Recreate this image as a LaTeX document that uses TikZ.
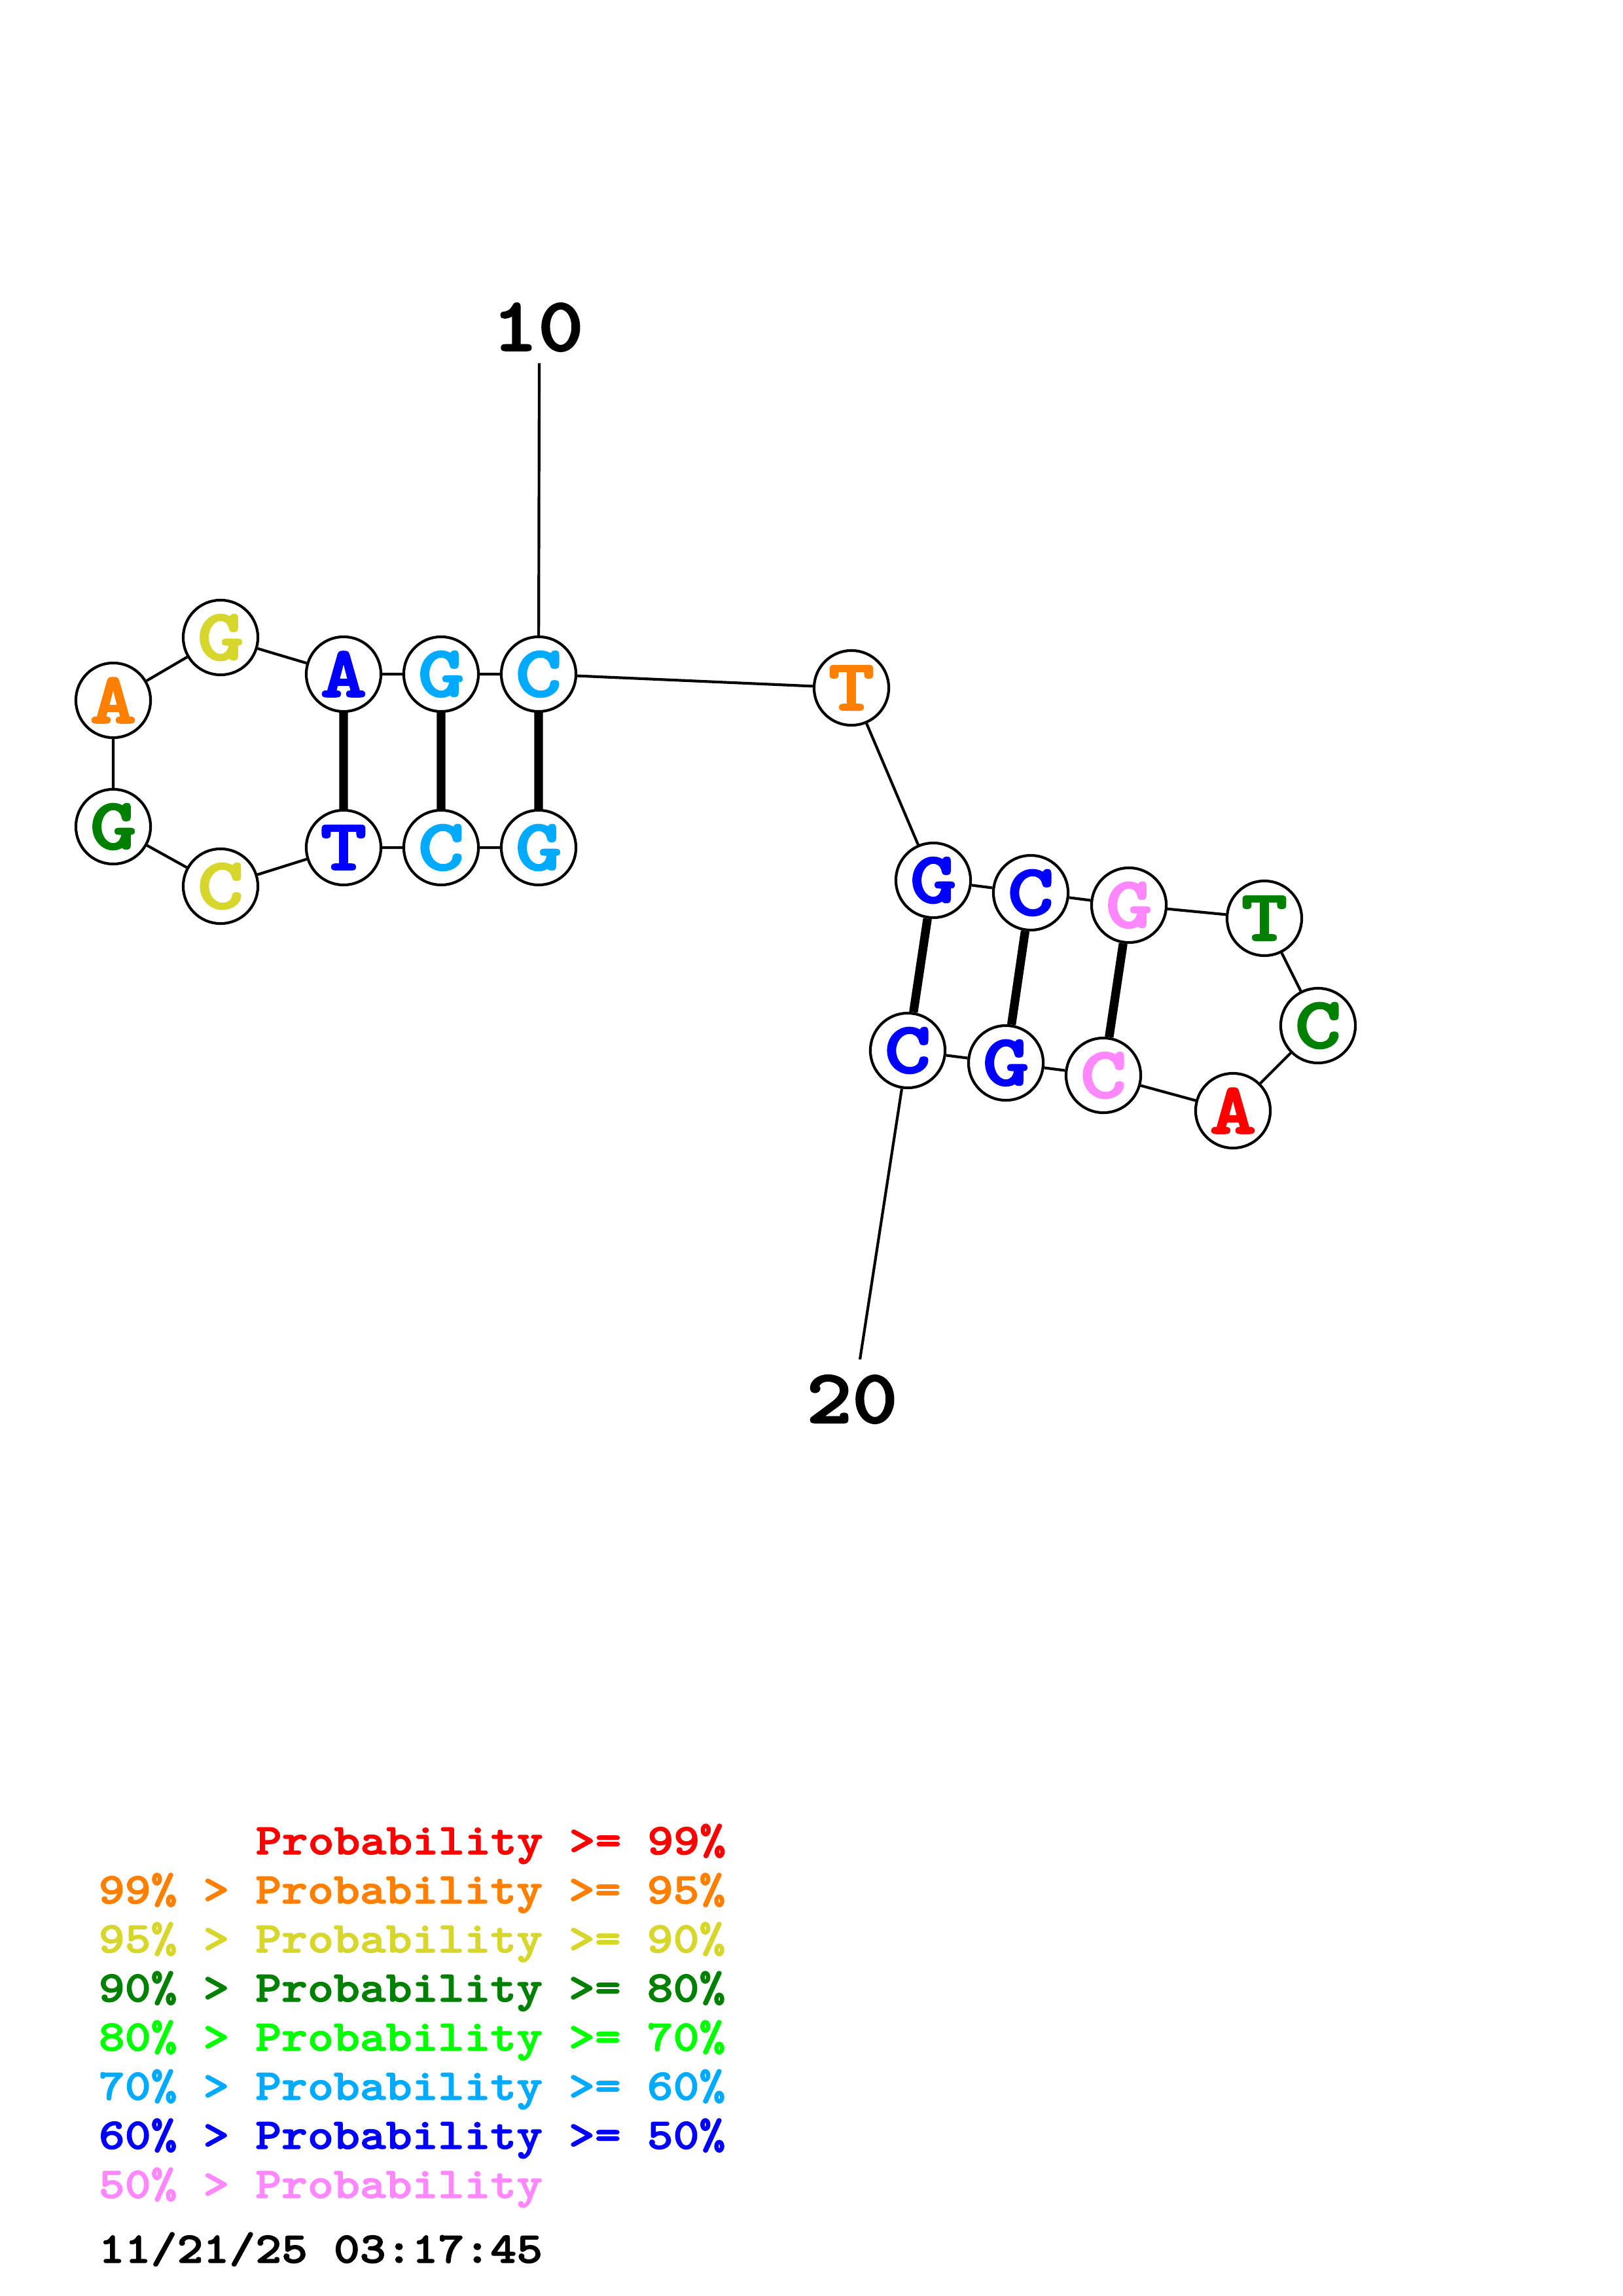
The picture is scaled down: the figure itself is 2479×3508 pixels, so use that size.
\documentclass[tikz,border=0pt]{standalone}
\usepackage{fontspec}
\newfontfamily\nucfont{lmmonolt10-bold.otf}[FakeStretch=1.22,FakeBold=2.5]
\newfontfamily\legfont{lmmonolt10-bold.otf}[FakeStretch=1.14,FakeBold=2]
\definecolor{pred}{RGB}{255,0,0}
\definecolor{porange}{RGB}{255,128,0}
\definecolor{pyellow}{RGB}{214,214,44}
\definecolor{pdgreen}{RGB}{0,128,0}
\definecolor{pgreen}{RGB}{0,255,0}
\definecolor{pcyan}{RGB}{0,170,255}
\definecolor{pblue}{RGB}{0,0,255}
\definecolor{ppink}{RGB}{255,136,255}
\tikzset{
  nuc/.style={circle,draw=black,line width=1pt,fill=white,inner sep=0pt,
    minimum size=27.4pt,font=\nucfont\fontsize{26.5}{26.5}\selectfont},
  bb/.style={line width=1pt},
  bp/.style={line width=3.2pt},
  numlabel/.style={inner sep=0pt,font=\legfont\fontsize{28}{28}\selectfont},
  legline/.style={anchor=base west,inner sep=0pt,font=\legfont\fontsize{16}{16}\selectfont}
}
\begin{document}
\begin{tikzpicture}[x=0.24pt,y=-0.24pt]
\useasboundingbox (0,0) rectangle (2479,3508);
\node[nuc,text=pcyan]   (n1)  at (823,1295) {G};
\node[nuc,text=pcyan]   (n2)  at (674,1295) {C};
\node[nuc,text=pblue]   (n3)  at (525,1295) {T};
\node[nuc,text=pyellow] (n4)  at (337,1354) {C};
\node[nuc,text=pdgreen] (n5)  at (173,1263) {G};
\node[nuc,text=porange] (n6)  at (173,1070) {A};
\node[nuc,text=pyellow] (n7)  at (337,974)  {G};
\node[nuc,text=pblue]   (n8)  at (525,1030) {A};
\node[nuc,text=pcyan]   (n9)  at (674,1030) {G};
\node[nuc,text=pcyan]   (n10) at (823,1030) {C};
\node[nuc,text=porange] (n11) at (1301,1051) {T};
\node[nuc,text=pblue]   (n12) at (1426,1345) {G};
\node[nuc,text=pblue]   (n13) at (1575,1364) {C};
\node[nuc,text=ppink]   (n14) at (1725,1383) {G};
\node[nuc,text=pdgreen] (n15) at (1932,1403) {T};
\node[nuc,text=pdgreen] (n16) at (2014,1567) {C};
\node[nuc,text=pred]    (n17) at (1884,1697) {A};
\node[nuc,text=ppink]   (n18) at (1686,1643) {C};
\node[nuc,text=pblue]   (n19) at (1537,1624) {G};
\node[nuc,text=pblue]   (n20) at (1387,1605) {C};
\coordinate (t10) at (824,555);
\coordinate (t20) at (1314,2077);
\node[numlabel] (l10) at (822,500) {10};
\node[numlabel] (l20) at (1302,2138) {20};
% backbone
\draw[bb] (n1)--(n2) (n2)--(n3) (n3)--(n4) (n4)--(n5) (n5)--(n6) (n6)--(n7)
  (n7)--(n8) (n8)--(n9) (n9)--(n10) (n10)--(n11) (n11)--(n12) (n12)--(n13)
  (n13)--(n14) (n14)--(n15) (n15)--(n16) (n16)--(n17) (n17)--(n18) (n18)--(n19)
  (n19)--(n20);
\draw[bb] (n10)--(t10);
\draw[bb] (n20)--(t20);
% base pairs
\draw[bp] (n1)--(n10) (n2)--(n9) (n3)--(n8) (n12)--(n20) (n13)--(n19) (n14)--(n18);
% legend
\node[legline,text=pred]    (g1) at (390,2833) {Probability >= 99\%};
\node[legline,text=porange] (g2) at (150,2908) {99\% > Probability >= 95\%};
\node[legline,text=pyellow] (g3) at (150,2983) {95\% > Probability >= 90\%};
\node[legline,text=pdgreen] (g4) at (150,3058) {90\% > Probability >= 80\%};
\node[legline,text=pgreen]  (g5) at (150,3133) {80\% > Probability >= 70\%};
\node[legline,text=pcyan]   (g6) at (150,3208) {70\% > Probability >= 60\%};
\node[legline,text=pblue]   (g7) at (150,3283) {60\% > Probability >= 50\%};
\node[legline,text=ppink]   (g8) at (150,3358) {50\% > Probability};
\node[legline,text=black]   (g9) at (150,3457) {11/21/25 03:17:45};
\end{tikzpicture}
\end{document}
